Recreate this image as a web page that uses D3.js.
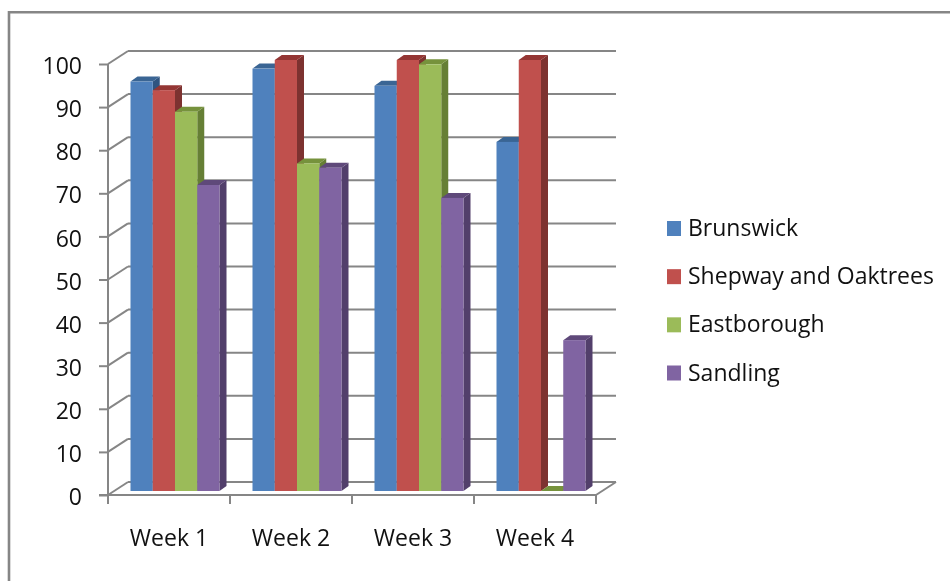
<!DOCTYPE html>
<html>
<head>
<meta charset="utf-8">
<script src="https://cdn.jsdelivr.net/npm/d3@7"></script>
<style>
    html, body { margin: 0; padding: 0; background: #fff; overflow: hidden; }
    svg { display: block; filter: blur(0.35px); }
    text { font-family: "Open Sans", sans-serif; fill: #111; }
</style>
</head>
<body>
<div id="chart_wrapper"></div>
<script>
const categories = ['Week 1', 'Week 2', 'Week 3', 'Week 4']
const seriesNames = ['Brunswick', 'Shepway and Oaktrees', 'Eastborough', 'Sandling']
const brunswick = [95, 98, 94, 81]
const shepway = [93, 100, 100, 100]
const eastborough = [88, 76, 99, 0]
const sandling = [71, 75, 68, 35]
const yTicks = [0, 10, 20, 30, 40, 50, 60, 70, 80, 90, 100]

const seriesValues = [brunswick, shepway, eastborough, sandling]
const frontColors = ['#4f81bd', '#c0504d', '#9bbb59', '#8064a2']
const topColors = ['#3a6594', '#943634', '#76923c', '#5f497a']
const sideColors = ['#2f5480', '#7d3230', '#667f35', '#523f6b']
const GRID = '#868686'

const CANVAS = { width: 950, height: 581 }
const svg = d3.select('#chart_wrapper').append('svg')
    .attr('width', CANVAS.width)
    .attr('height', CANVAS.height)

// outer frame, runs off the right and bottom of the picture
svg.append('path')
    .attr('d', 'M9,581V12.3H950')
    .attr('fill', 'none')
    .attr('stroke', GRID)
    .attr('stroke-width', 2.6)

const x = d3.scaleBand().domain(categories).range([108, 596])
    .paddingInner(33 / 122).paddingOuter(16.5 / 122)
const xInner = d3.scaleBand().domain(d3.range(seriesNames.length)).range([0, x.bandwidth()])
const y = d3.scaleLinear().domain([0, 100]).range([495, 64])
const xEdge = d3.scaleLinear().domain([0, categories.length]).range([108, 596])

// 3d offsets: back wall, and how far the bars sit in
const wall = { dx: 20, dy: -13 }
const barShift = { dx: 6, dy: -4 }
const depth = { dx: 7, dy: -5 }

const grid = svg.append('g').attr('fill', 'none').attr('stroke', GRID).attr('stroke-width', 2)

grid.selectAll('.back').data(yTicks).join('line')
    .attr('class', 'back')
    .attr('x1', 108 + wall.dx).attr('x2', 596 + wall.dx)
    .attr('y1', d => y(d) + wall.dy).attr('y2', d => y(d) + wall.dy)

grid.selectAll('.slant').data(yTicks).join('line')
    .attr('class', 'slant')
    .attr('x1', 108).attr('x2', 108 + wall.dx)
    .attr('y1', d => y(d)).attr('y2', d => y(d) + wall.dy)

grid.append('line')
    .attr('x1', 596).attr('x2', 596 + wall.dx)
    .attr('y1', y(0)).attr('y2', y(0) + wall.dy)

// axes
const yAxis = svg.append('g')
    .attr('transform', 'translate(108,0)')
    .call(d3.axisLeft(y).tickValues(yTicks).tickSize(9).tickPadding(17))
yAxis.selectAll('line, path').attr('stroke', GRID).attr('stroke-width', 2)
yAxis.select('.domain').attr('d', `M0,${y(100)}V${y(0)}`)
yAxis.selectAll('text').style('font-size', '23px').attr('dy', '0.42em').attr('fill', '#111')

const xTicks = svg.append('g')
xTicks.selectAll('line').data(d3.range(categories.length + 1)).join('line')
    .attr('x1', d => xEdge(d)).attr('x2', d => xEdge(d))
    .attr('y1', y(0)).attr('y2', y(0) + 9)
    .attr('stroke', GRID).attr('stroke-width', 2)
xTicks.append('line')
    .attr('x1', 99).attr('x2', 596)
    .attr('y1', y(0)).attr('y2', y(0))
    .attr('stroke', GRID).attr('stroke-width', 2)

const xAxis = svg.append('g')
    .attr('transform', `translate(0,${y(0)})`)
    .call(d3.axisBottom(x).tickSize(0).tickPadding(35))
xAxis.select('.domain').remove()
xAxis.selectAll('text').style('font-size', '23px').attr('fill', '#111')

// bars
const bars = svg.append('g')
categories.forEach((cat, c) => {
    seriesValues.forEach((values, s) => {
        const x0 = x(cat) + xInner(s) + barShift.dx
        const x1 = x0 + xInner.bandwidth()
        const yTop = y(values[c]) + barShift.dy
        const yBase = y(0) + barShift.dy
        const g = bars.append('g')
        g.append('path')
            .attr('d', `M${x1},${yTop}l${depth.dx},${depth.dy}V${yBase + depth.dy}l${-depth.dx},${-depth.dy}Z`)
            .attr('fill', sideColors[s])
        g.append('path')
            .attr('d', `M${x0},${yTop}l${depth.dx},${depth.dy}H${x1 + depth.dx}l${-depth.dx},${-depth.dy}Z`)
            .attr('fill', topColors[s])
        g.append('rect')
            .attr('x', x0).attr('y', yTop)
            .attr('width', xInner.bandwidth()).attr('height', yBase - yTop)
            .attr('fill', frontColors[s])
    })
})

// legend
const legendY = d3.scalePoint().domain(seriesNames).range([228.5, 373])
const legend = svg.append('g').selectAll('g').data(seriesNames).join('g')
    .attr('transform', d => `translate(667,${legendY(d)})`)
legend.append('rect')
    .attr('x', 0).attr('y', -7.5).attr('width', 14).attr('height', 15)
    .attr('fill', (d, i) => frontColors[i])
legend.append('text')
    .attr('x', 21).attr('dy', '0.33em')
    .style('font-size', '23px')
    .text(d => d)
</script>
</body>
</html>
